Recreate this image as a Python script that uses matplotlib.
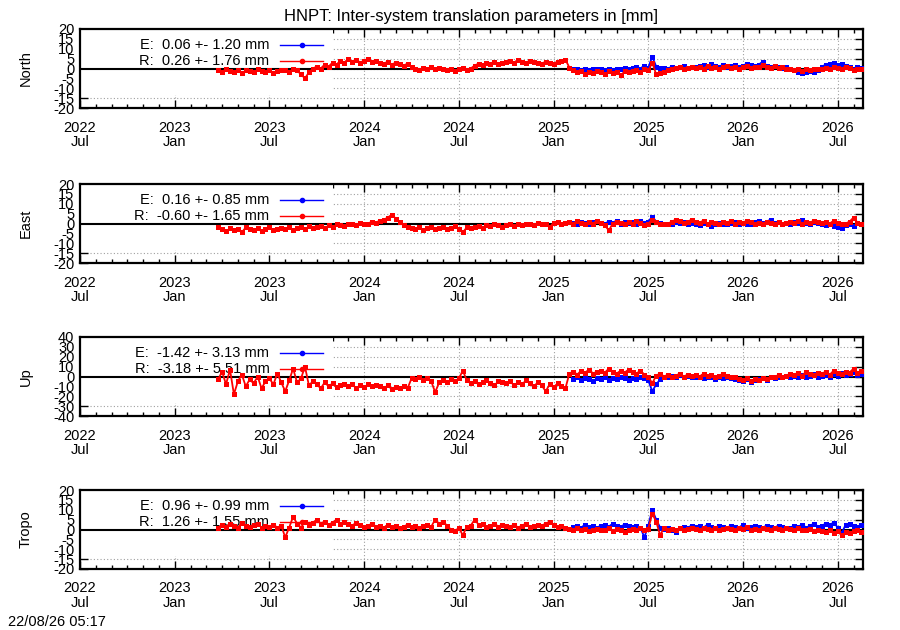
import numpy as np
import matplotlib.pyplot as plt
from matplotlib.patches import Rectangle

plt.rcParams['font.family'] = ['Liberation Sans', 'DejaVu Sans']
plt.rcParams['font.size'] = 10.5
plt.rcParams['axes.unicode_minus'] = False

# x axis: months counted from the left edge ("2022 Jul" as labelled)
tick_months = [0, 6, 12, 18, 24, 30, 36, 42, 48]
tick_labels = ['2022\nJul', '2023\nJan', '2023\nJul', '2024\nJan', '2024\nJul',
               '2025\nJan', '2025\nJul', '2026\nJan', '2026\nJul']
x_end = 49.6

# sampling dates of the series (weekly, months)
red_t = 8.75 + 0.25 * np.arange(164)
blue_t = 31.25 + 0.25 * np.arange(74)

north_r = [-1, -2, 0, -1.5, -2, -1, -2.5, -1, -1.5, -2, -0.5, -1.5, -2, -1, -2.5, -1.5, -1,
           -1, -2, 0, -1, -3, -5, -2, 0,
           1, 0, 2, 1, 3, 2, 4, 3,
           5, 3.5, 4.5, 3, 4, 5, 3.5, 4,
           3, 2.5, 3.5, 2, 3, 2.5, 1.5, 2.5,
           1, 0, -1, 0.5, -0.5, 1, 0, 0.5,
           -0.5, -1, 0, -1.5, -0.5, 0.5, -1, 0,
           1.5, 2.5, 2, 3, 2.5, 3.5, 2.5, 3,
           3.5, 4, 3, 4.5, 3.5, 3, 4, 3.5,
           3, 2.5, 3.5, 3, 2.5, 3.5, 4, 4.5,
           0.5, -1, -2, -1.5, -3, -2, -2.5, -1.5,
           -2, -3, -1.5, -2.5, -2, -3.5, -1.5, -2,
           -1.5, -1, -2, -0.5, -1, 3, -3, -2.5,
           -2, -1, 0, 0.5, 1, 0, 0.5, 1,
           0.5, 1, 0, 1.5, 0.5, 1, 0, 1,
           1.5, 0.5, 1, 0, 1, 1.5, 0.5, 1,
           1, 2, 1, 0.5, 1.5, 0.5, 1, 0,
           -0.5, -1, 0, -1.5, -0.5, -1, 0, -0.5,
           0, 0.5, -0.5, 1, 0.5, 0, 1, 0.5,
           -1, 0, -0.5]
north_e = [0, -0.5, -1, 0, -1, -0.5, 0,
           -0.5, -1, 0, -1, -0.5, 0, 0.5, 0,
           0.5, 1, 0, 1.5, 0.5, 6, 1, 0.5,
           0.5, 0, 1, 0.5, 1, 1.5, 0.5, 1,
           1, 1.5, 2, 1, 2.5, 1.5, 1, 2,
           1, 1.5, 2, 1, 1.5, 2.5, 2, 1.5,
           2, 3.5, 1.5, 1, 1.5, 1, 0.5, 1,
           0, -1, -2, -2.5, -2, -1.5, -2, -1,
           1, 2, 2.5, 3, 2, 2.5, 1.5, 1,
           0, 1, 0.5]

east_r = [-2, -3, -4, -2.5, -3.5, -3, -4.5, -2, -3, -3.5, -2.5, -4, -3, -2, -3.5, -3, -2.5,
          -3, -2, -3.5, -2.5, -2, -3, -1.5, -2.5,
          -2, -1.5, -2.5, -1, -2, -0.5, -1, -1.5,
          -0.5, 0, -1, 0.5, -0.5, 0, 1, 0.5,
          1.5, 2, 3, 4.5, 2.5, 1, -1, -2,
          -2.5, -3, -2, -3.5, -2.5, -2, -3, -2.5,
          -2, -3, -2.5, -1.5, -3, -4.5, -2, -2.5,
          -2, -1.5, -2.5, -1, -1.5, -0.5, -1, -2,
          -1, -0.5, -1.5, 0, -1, -0.5, 0, -1,
          0.5, -0.5, 0, -2, 0.5, 1, 0, 0.5,
          1, 0, 1.5, 0.5, -0.5, 1, 0, 1.5,
          0.5, -1, -3.5, 0, 1, 0.5, -0.5, 1,
          0, 1.5, 0.5, -1, 0, 2, 1, 0,
          -0.5, 0, 1, 2, 1.5, 0.5, 1, 2,
          1, 0.5, 1.5, 0, 1, 0.5, -0.5, 1,
          0.5, 1.5, 0, 1, 0.5, 1.5, 1, 0,
          0.5, 0, 1, 0.5, -0.5, 1, 0, 0.5,
          1, 0.5, 1.5, 0, 1, 0.5, 1.5, 1,
          0.5, 1, 0, 1.5, 0.5, -0.5, 0, 1,
          3, 0.5, -0.5]
east_e = [0.5, 0, 1, 0.5, 0, 1, 1.5,
          0.5, 0, 1, 0.5, 1.5, 0, 1, 0.5,
          1, 0, 1.5, 0.5, 1, 3.5, 1, 0.5,
          0, -0.5, 0, 1, 0.5, 1, 0, 0.5,
          0, -1, 0.5, -0.5, -1.5, 0, 0.5, -0.5,
          0, 0.5, 1, 0, 0.5, -0.5, 0, 1,
          1.5, 0.5, 1, 2, 0.5, 1, 0, 0.5,
          0, 1, 0.5, 2, 0.5, 0, 1, 0.5,
          0, -1, -0.5, -1.5, -2, -2.5, -1, 0,
          -1.5, 0.5, -0.5]

up_r = [-3, 5, -8, 7, -18, -5, 2, -10, -3, -7, 0, -12, -5, -2, -8, 3, -6,
        -15, -4, 8, -6, -2, 10, -9, -5,
        -8, -12, -6, -10, -7, -11, -9, -8,
        -10, -8, -12, -9, -11, -8, -10, -9,
        -10, -12, -9, -13, -11, -12, -10, -12,
        -2, -3, 0, -4, -2, -5, -16, -6,
        -4, -6, -3, -5, -2, 6, -4, -7,
        -5, -8, -6, -4, -7, -9, -5, -6,
        -7, -5, -9, -6, -8, -4, -7, -10,
        -6, -9, -15, -8, -11, -7, -10, -12,
        3, 5, 2, 6, 4, 7, 3, 5,
        6, 4, 8, 5, 3, 6, 4, 7,
        5, 3, 6, 2, 0, -7, 1, 3,
        0, 2, -1, 1, 3, 0, 2, 1,
        2, 0, 3, 1, 2, -1, 1, 3,
        1, -1, 0, -3, -4, -2, -5, -3,
        -4, -2, -3, 0, -1, 2, 0, 1,
        3, 2, 4, 1, 5, 3, 2, 4,
        3, 5, 2, 6, 4, 3, 5, 4,
        8, 4, 6]
up_e = [-3, -1, -4, -2, -3, -5, -2,
        -3, -1, -4, -2, -3, -1, -2, -4,
        -2, -3, -1, -2, -4, -15, -8, -3,
        -1, 0, 1, -1, 2, 0, 1, -1,
        0, -1, -2, 0, -1, -3, -1, -2,
        -1, -2, -3, -4, -5, -3, -6, -4,
        -3, -2, -4, -1, -2, 0, -1, 1,
        0, 1, -1, 2, 0, 1, 3, 0,
        1, 2, 0, 3, 1, 4, 2, 3,
        5, 2, 3]

tropo_r = [1, 2.5, 1.5, 3, 2, 1, 3.5, 2, 1.5, 2.5, 3, 1, 2, 1.5, 2.5, 1, 2,
           -4, 1, 6.5, 3, 1, 4, 2.5, 3.5,
           5, 3, 4, 2.5, 3.5, 5, 3, 4,
           3, 2, 3.5, 2.5, 1.5, 2, 3, 1.5,
           2, 1, 2.5, 1.5, 2, 1, 1.5, 2.5,
           1.5, 2, 1, 2, 2.5, 1.5, 5, 3,
           4, 2, 0, -1, 1, -3, 1.5, 2,
           5, 2.5, 3, 1.5, 2, 3, 1.5, 2.5,
           2, 1.5, 2.5, 1, 2, 3, 1.5, 2,
           2.5, 2, 3, 4, 2.5, 1.5, 2, 1,
           0.5, 0, 1, -0.5, 0.5, -1, 0, 0.5,
           -0.5, 0, 1, -1, 0.5, 0, -1.5, 0,
           0.5, -0.5, 1, 0, 0.5, 8, 4, -3,
           1, 0, 0.5, -0.5, 1, 0, 0.5, 1,
           0.5, 0, 1, 0.5, 0, 1, -0.5, 0.5,
           1, 0.5, 0, 1, 0.5, 1.5, 0, 0.5,
           0, 1, 0.5, 0, 1, 0.5, 0, 1,
           0.5, 0, 1, -0.5, 0, 0.5, -1, 0,
           -1, -1.5, -0.5, -2, -1, -3, -1.5, -2,
           -1, -0.5, -1.5]
tropo_e = [1.5, 2, 1, 2.5, 1.5, 2, 1,
           2, 2.5, 1.5, 3, 2, 1.5, 2.5, 2,
           1.5, 2, 1, -4, 2, 10, 5, 1,
           0.5, 1, 0, -1.5, 1, 1.5, 1, 2,
           1.5, 2, 1, 2.5, 1.5, 1, 2, 1.5,
           1, 2, 1.5, 1, 2.5, 1, 1.5, 2,
           1.5, 1, 2, 1.5, 1, 2, 1.5, 1,
           1, 2, 1.5, 2.5, 1, 2, 3, 1.5,
           2, 3, 2.5, 3.5, 1, -2, 2.5, 3,
           2, 1.5, 2.5]

names = ['North', 'East', 'Up', 'Tropo']
ylims = [20, 20, 40, 20]
ysteps = [5, 5, 10, 5]
e_stats = ['E:  0.06 +- 1.20 mm', 'E:  0.16 +- 0.85 mm', 'E:  -1.42 +- 3.13 mm', 'E:  0.96 +- 0.99 mm']
r_stats = ['R:  0.26 +- 1.76 mm', 'R:  -0.60 +- 1.65 mm', 'R:  -3.18 +- 5.51 mm', 'R:  1.26 +- 1.55 mm']
e_series = [north_e, east_e, up_e, tropo_e]
r_series = [north_r, east_r, up_r, tropo_r]

W, H = 900, 630
fig = plt.figure(figsize=(9, 6.3), dpi=100)
tops = [29, 184, 337, 490]
ph = 79

for k in range(4):
    ax = fig.add_axes([80 / W, 1 - (tops[k] + ph) / H, 783 / W, ph / H])
    lim = ylims[k]
    ax.set_xlim(0, x_end)
    ax.set_ylim(-lim, lim)
    ax.set_xticks(tick_months)
    ax.set_xticklabels(tick_labels, linespacing=1.05)
    ax.set_xticks(np.arange(0, 50), minor=True)
    yt = np.arange(-lim, lim + 1, ysteps[k])
    ax.set_yticks(yt)
    ax.set_yticklabels([str(v) for v in yt])
    ax.tick_params(which='both', direction='in', top=True, right=True, width=1)
    ax.tick_params(which='major', length=6)
    ax.tick_params(which='minor', length=3)
    ax.tick_params(axis='x', pad=9)
    ax.tick_params(axis='y', pad=4)
    for s in ax.spines.values():
        s.set_linewidth(1.6)
    ax.set_axisbelow(True)
    ax.grid(True, which='major', color='#a0a0a0', linestyle=(0, (1, 2)), linewidth=0.8)

    # opaque key box covers the grid
    ax.add_patch(Rectangle((0, -lim + 0.17 * 2 * lim), 16, 0.83 * 2 * lim,
                           facecolor='white', edgecolor='none', zorder=1))
    ax.axhline(0, color='black', linewidth=1.5, zorder=2)

    y1 = lim - 0.203 * 2 * lim
    y2 = lim - 0.405 * 2 * lim
    ax.text(12.0, y1, e_stats[k], ha='right', va='center', zorder=3)
    ax.text(12.0, y2, r_stats[k], ha='right', va='center', zorder=3)
    ax.plot([12.7, 15.4], [y1, y1], color='blue', lw=1, zorder=3)
    ax.plot([14.05], [y1], 'o', color='blue', ms=3, zorder=3)
    ax.plot([12.7, 15.4], [y2, y2], color='red', lw=1, zorder=3)
    ax.plot([14.05], [y2], 'o', color='red', ms=3, zorder=3)

    ax.plot(blue_t, e_series[k], '-s', color='blue', lw=1.3, ms=3.6, mew=0, zorder=4)
    ax.plot(red_t, r_series[k], '-s', color='red', lw=1.3, ms=3.6, mew=0, zorder=5)

    ax.set_ylabel(names[k])
    ax.yaxis.set_label_coords(-(80 - 33) / 783, 0.5)

    if k == 0:
        ax.set_title('HNPT: Inter-system translation parameters in [mm]',
                     fontsize=12, pad=6)

fig.text(8 / W, 1 - 622 / H, '22/08/26 05:17', ha='left', va='center')
fig.savefig('out.png', dpi=100)
